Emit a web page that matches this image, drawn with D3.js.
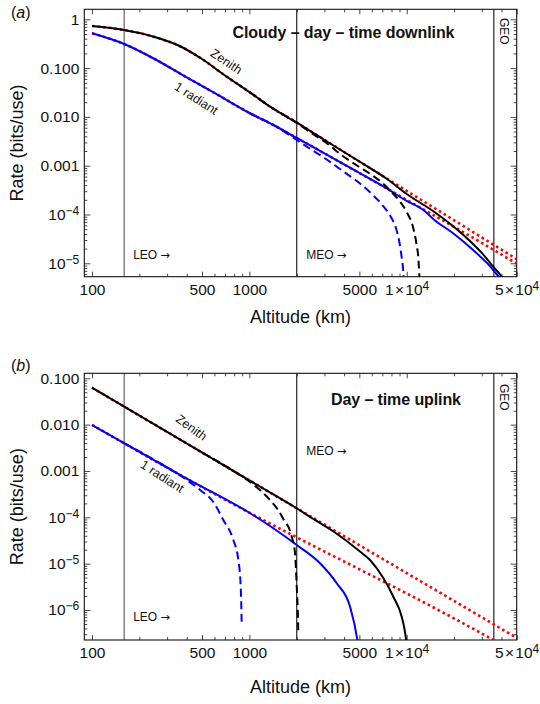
<!DOCTYPE html>
<html><head><meta charset="utf-8">
<script src="https://cdn.jsdelivr.net/npm/d3@7"></script>
<style>
body{margin:0;background:#fff}
svg{display:block}
text{font-family:"Liberation Sans",Arial,sans-serif;fill:#111}
</style>
</head><body>
<svg id="chart" width="540" height="704"></svg>
<script>
// ---------------- DATA ----------------
const xMajor = [100, 500, 1000, 5000, 10000, 50000];
const xMajorLabels = ["100", "500", "1000", "5000", "1\u200A×\u200A10^4", "5\u200A×\u200A10^4"];
const xMinor = [200,300,400,600,700,800,900,2000,3000,4000,6000,7000,8000,9000,20000,30000,40000];
const orbitLines = [160, 2000, 35786];
const orbitNames = ["LEO", "MEO", "GEO"];

const yTicksA = [1, 0.1, 0.01, 0.001, 1e-4, 1e-5];
const yLabelsA = ["1", "0.100", "0.010", "0.001", "10^−4", "10^−5"];
const yTicksB = [0.1, 0.01, 0.001, 1e-4, 1e-5, 1e-6];
const yLabelsB = ["0.100", "0.010", "0.001", "10^−4", "10^−5", "10^−6"];

// Panel (a): cloudy day-time downlink  [altitude km, rate bits/use]
const downZenithSolid = [[100,0.729],[160,0.603],[250,0.4338],[360,0.2837],[500,0.1536],[700,0.0705],[1000,0.03237],[1350,0.01633],[2000,0.00761],[3000,0.003362],[5000,0.001219],[7500,0.000534],[10000,0.000263],[15000,0.0001125],[20000,5.54e-5],[26000,2.61e-5],[30000,1.63e-5],[35600,8.4e-6],[40600,5.0e-6],[43000,3.6e-6]];
const downZenithDashed = [[1000,0.03237],[1350,0.01633],[2000,0.00761],[2500,0.004568],[3000,0.003132],[4000,0.001508],[5000,9.40e-4],[6000,6.45e-4],[7000,4.42e-4],[8000,2.89e-4],[9000,1.891e-4],[10000,1.125e-4],[11000,5.29e-5],[11500,2.61e-5],[11900,1.063e-5],[12100,3.59e-6]];
const downZenithBound = [[100,0.729],[160,0.603],[250,0.4338],[360,0.2837],[500,0.1536],[700,0.0705],[1000,0.03237],[1350,0.01633],[2000,0.00761],[5000,0.001218],[10000,3.044e-4],[20000,7.61e-5],[50000,1.218e-5]];
const downRadSolid = [[100,0.5165],[160,0.3118],[250,0.1536],[400,0.0642],[600,0.0309],[1000,0.01202],[1500,0.006209],[2000,0.003695],[3000,0.001786],[5000,7.09e-4],[7500,3.38e-4],[10000,1.891e-4],[12760,1.237e-4],[15000,7.72e-5],[20000,3.985e-5],[26000,1.963e-5],[30000,1.284e-5],[33800,8.80e-6],[36500,6.48e-6],[39200,4.77e-6],[41000,3.43e-6]];
const downRadDashed = [[1000,0.01202],[1500,0.006209],[2000,0.003362],[2500,0.002097],[3000,0.001438],[4000,7.43e-4],[5000,4.42e-4],[6000,2.63e-4],[7000,1.565e-4],[8000,8.48e-5],[8500,5.54e-5],[9000,2.61e-5],[9300,1.284e-5],[9500,6.95e-6],[9600,3.59e-6]];
const downRadBound = [[100,0.5165],[160,0.3118],[250,0.1536],[400,0.0642],[600,0.0309],[1000,0.01202],[1500,0.006209],[2000,0.003698],[3000,0.001789],[5000,7.08e-4],[7500,3.375e-4],[10000,1.990e-4],[15000,9.50e-5],[20000,5.60e-5],[30000,2.609e-5],[50000,9.85e-6]];

// Panel (b): day-time uplink
const upZenithSolid = [[100,0.0627],[1000,6.27e-4],[2000,1.5675e-4],[2500,9.6e-5],[3500,4.7e-5],[5000,1.876e-5],[5845,1.199e-5],[7100,4.90e-6],[8220,1.936e-6],[9296,7.17e-7],[9700,3.70e-7],[9900,2.25e-7],[10000,1.37e-7]];
const upZenithDashed = [[500,0.002508],[800,9.797e-4],[1000,5.93e-4],[1118,4.40e-4],[1353,2.364e-4],[1506,1.512e-4],[1644,9.20e-5],[1859,3.82e-5],[1951,1.674e-5],[2000,3.18e-6],[2030,1.0e-6],[2047,3.14e-7]];
const upZenithBound = [[100,0.0627],[1000,6.27e-4],[10000,6.27e-6],[50000,2.508e-7]];
const upRadSolid = [[100,0.00982],[160,0.00397],[384,7.4e-4],[970,1.335e-4],[1353,6.50e-5],[2000,2.527e-5],[2812,1.018e-5],[3590,3.77e-6],[4363,1.178e-6],[4855,2.25e-7],[5000,1.07e-7]];
const upRadDashed = [[160,0.00397],[250,1.725e-3],[400,6.39e-4],[486,3.89e-4],[590,2.14e-4],[683,8.76e-5],[791,3.24e-5],[851,1.20e-5],[881,3.18e-6],[894,4.75e-7]];
const upRadBound = [[100,0.00992],[160,0.003953],[300,0.001177],[1000,1.260e-4],[2000,3.691e-5],[5000,7.57e-6],[10000,2.275e-6],[20000,6.57e-7],[50000,1.184e-7]];

// ---------------- DRAW ----------------
const svg = d3.select("#chart");
const L = 84.3, R = 516.7;

function labelWithSup(sel, lab) {
  sel.text(null);
  const parts = lab.split("^");
  sel.append("tspan").text(parts[0]);
  if (parts[1]) sel.append("tspan").attr("dy", "-0.42em").attr("font-size", "0.78em").text(parts[1]);
}

function panel(cfg) {
  const {id, top, bottom, yDomain, yTicks, yLabels, series, title, titleX, titleY, titleLen,
         tag, tagY, leoY, meoY, geoY, xLabY, curveLabels} = cfg;
  const x = d3.scaleLog().domain([89.3, 50000]).range([L, R]);
  const y = d3.scaleLog().domain(yDomain).range([bottom, top]);
  const g = svg.append("g");

  g.append("clipPath").attr("id", "clip" + id)
    .append("rect").attr("x", L).attr("y", top).attr("width", R - L).attr("height", bottom - top);

  const yMinor = [];
  const d0 = Math.floor(Math.log10(yDomain[0])), d1 = Math.ceil(Math.log10(yDomain[1]));
  for (let d = d0; d <= d1; d++) for (let k = 2; k <= 9; k++) {
    const v = k * Math.pow(10, d);
    if (v > yDomain[0] && v < yDomain[1]) yMinor.push(v);
  }

  g.selectAll(".orbit").data(orbitLines).join("line")
    .attr("x1", d => x(d)).attr("x2", d => x(d)).attr("y1", top).attr("y2", bottom)
    .attr("stroke", (d, i) => i === 0 ? "#555" : "#111").attr("stroke-width", 1.1);

  g.append("g").attr("transform", `translate(0,${bottom})`)
    .call(d3.axisBottom(x).tickValues(xMinor).tickSize(-3).tickFormat(""));
  g.append("g").attr("transform", `translate(0,${bottom})`)
    .call(d3.axisBottom(x).tickValues(xMajor).tickSize(-5).tickPadding(7))
    .call(s => s.selectAll(".tick text").attr("font-size", 15.5).attr("fill", "#111")
      .each(function(d, i) { labelWithSup(d3.select(this), xMajorLabels[i]); }));
  g.append("g").attr("transform", `translate(0,${top})`)
    .call(d3.axisTop(x).tickValues(xMinor).tickSize(-3).tickFormat(""));
  g.append("g").attr("transform", `translate(0,${top})`)
    .call(d3.axisTop(x).tickValues(xMajor).tickSize(-5).tickFormat(""));
  g.append("g").attr("transform", `translate(${L},0)`)
    .call(d3.axisLeft(y).tickValues(yMinor).tickSize(-3).tickFormat(""));
  g.append("g").attr("transform", `translate(${L},0)`)
    .call(d3.axisLeft(y).tickValues(yTicks).tickSize(-6).tickPadding(5))
    .call(s => s.selectAll(".tick text").attr("font-size", 15.5).attr("fill", "#111")
      .each(function(d, i) { labelWithSup(d3.select(this), yLabels[i]); }));
  g.append("g").attr("transform", `translate(${R},0)`)
    .call(d3.axisRight(y).tickValues(yMinor).tickSize(-3).tickFormat(""));
  g.append("g").attr("transform", `translate(${R},0)`)
    .call(d3.axisRight(y).tickValues(yTicks).tickSize(-6).tickFormat(""));
  g.selectAll(".domain").remove();
  g.selectAll(".tick line").attr("stroke", "#333").attr("stroke-width", 0.9);

  g.append("rect").attr("x", L).attr("y", top).attr("width", R - L).attr("height", bottom - top)
    .attr("fill", "none").attr("stroke", "#111").attr("stroke-width", 1.1);

  const line = d3.line().x(d => x(d[0])).y(d => y(d[1])).curve(d3.curveMonotoneX);
  const cg = g.append("g").attr("clip-path", `url(#clip${id})`);
  series.forEach(s => {
    cg.append("path").datum(s.data).attr("d", line).attr("fill", "none")
      .attr("stroke", s.color).attr("stroke-width", s.width)
      .attr("stroke-dasharray", s.dash || null).attr("stroke-linecap", "butt");
  });

  g.append("text").attr("x", titleX).attr("y", titleY).attr("text-anchor", "middle")
    .attr("font-weight", "bold").attr("font-size", 16)
    .attr("textLength", titleLen).attr("lengthAdjust", "spacing").text(title);
  const orbitLabel = (name, xx, yy) => {
    const t = g.append("text").attr("x", xx).attr("y", yy).attr("font-size", 12);
    t.append("tspan").text(name + " ");
    t.append("tspan").attr("font-family", "DejaVu Sans").attr("font-size", 11.5).text("→");
  };
  orbitLabel(orbitNames[0], x(orbitLines[0]) + 9, leoY);
  orbitLabel(orbitNames[1], x(orbitLines[1]) + 9.5, meoY);
  g.append("text").attr("transform", `translate(${x(orbitLines[2]) + 6.5},${geoY}) rotate(90)`)
    .attr("font-size", 12).text(orbitNames[2]);
  const tg = g.append("text").attr("x", 11).attr("y", tagY).attr("font-size", 16);
  tg.append("tspan").text("(");
  tg.append("tspan").attr("font-style", "italic").text(tag);
  tg.append("tspan").text(")");
  g.append("text").attr("x", (L + R) / 2).attr("y", xLabY).attr("text-anchor", "middle")
    .attr("font-size", 18).text("Altitude (km)");
  g.append("text").attr("transform", `translate(23,${(top + bottom) / 2}) rotate(-90)`)
    .attr("text-anchor", "middle").attr("font-size", 18).text("Rate (bits/use)");
  curveLabels.forEach(c => {
    g.append("text").attr("transform", `translate(${c.x},${c.y}) rotate(${c.a})`)
      .attr("text-anchor", "middle").attr("font-size", 12.5).text(c.t);
  });
}

const red = "#ff0000", blue = "#0000ff", black = "#000000";
panel({
  id: "a", top: 9.3, bottom: 276.7, yDomain: [5.31e-6, 1.603],
  yTicks: yTicksA, yLabels: yLabelsA,
  series: [
    {data: downZenithBound, color: red, width: 2.6, dash: "2.6,3"},
    {data: downRadBound, color: red, width: 2.6, dash: "2.6,3"},
    {data: downZenithSolid, color: black, width: 2},
    {data: downRadSolid, color: blue, width: 2},
    {data: downZenithDashed, color: black, width: 2, dash: "8,4.5"},
    {data: downRadDashed, color: blue, width: 2, dash: "8,4.5"}
  ],
  title: "Cloudy – day – time downlink", titleX: 343.5, titleY: 38, titleLen: 222,
  tag: "a", tagY: 18, leoY: 258.5, meoY: 258.5, geoY: 18, xLabY: 323,
  curveLabels: [{t: "Zenith", x: 224, y: 65, a: 34}, {t: "1 radiant", x: 194, y: 102, a: 33}]
});
panel({
  id: "b", top: 373.3, bottom: 640, yDomain: [2.252e-7, 0.1282],
  yTicks: yTicksB, yLabels: yLabelsB,
  series: [
    {data: upZenithBound, color: red, width: 2.6, dash: "2.6,3"},
    {data: upRadBound, color: red, width: 2.6, dash: "2.6,3"},
    {data: upZenithSolid, color: black, width: 2},
    {data: upRadSolid, color: blue, width: 2},
    {data: upZenithDashed, color: black, width: 2, dash: "8,4.5"},
    {data: upRadDashed, color: blue, width: 2, dash: "8,4.5"}
  ],
  title: "Day – time uplink", titleX: 396, titleY: 404.5, titleLen: 130,
  tag: "b", tagY: 371, leoY: 621, meoY: 455, geoY: 384, xLabY: 693,
  curveLabels: [{t: "Zenith", x: 189, y: 431, a: 36}, {t: "1 radiant", x: 160, y: 480, a: 33}]
});
</script>
</body></html>
